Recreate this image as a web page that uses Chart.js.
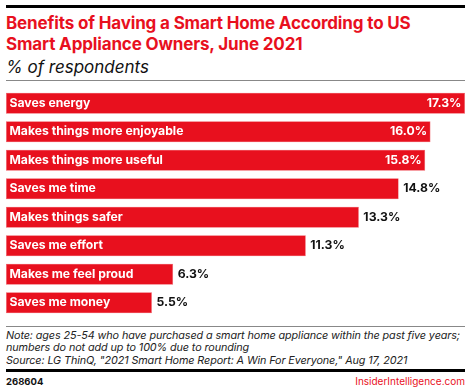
<!DOCTYPE html>
<html>
<head>
<meta charset="utf-8">
<script src="https://cdn.jsdelivr.net/npm/chart.js@4"></script>
<style>
  html, body { margin: 0; padding: 0; background: #fff; }
  body { width: 470px; height: 391px; position: relative; overflow: hidden; font-family: Inter, "Liberation Sans", sans-serif; }
  .rule { position: absolute; left: 6px; width: 459px; }
  #topRule { top: 5px; height: 3px; background: #000; }
  #headRule { top: 80px; height: 1px; background: #888; }
  #noteRule { top: 326px; height: 1px; background: #888; }
  #footRule { top: 369px; height: 3px; background: #000; }
  #title { position: absolute; left: 6px; top: 13px; color: #e8101e; font-weight: 700; font-size: 17px; line-height: 20.5px; letter-spacing: -0.15px; white-space: nowrap; }
  #subtitle { position: absolute; left: 6px; top: 57px; font-style: italic; font-size: 17px; color: #111; white-space: nowrap; }
  #chartBox { position: absolute; left: 0; top: 85px; }
  #note { position: absolute; left: 6px; top: 329.5px; font-style: italic; font-size: 10.8px; line-height: 12.5px; color: #222; white-space: nowrap; letter-spacing: -0.1px; }
  #code { position: absolute; left: 6px; top: 375.5px; font-weight: 700; font-size: 9.5px; color: #111; }
  #brand { position: absolute; right: 5px; top: 375px; font-size: 10px; color: #e8101e; }
</style>
</head>
<body>
<div class="rule" id="topRule"></div>
<div id="title">Benefits of Having a Smart Home According to US<br>Smart Appliance Owners, June 2021</div>
<div id="subtitle">% of respondents</div>
<div class="rule" id="headRule"></div>
<div id="chartBox"><canvas id="benefits_chart" width="470" height="238"></canvas></div>
<div class="rule" id="noteRule"></div>
<div id="note">Note: ages 25-54 who have purchased a smart home appliance within the past five years;<br>numbers do not add up to 100% due to rounding<br>Source: LG ThinQ, "2021 Smart Home Report: A Win For Everyone," Aug 17, 2021</div>
<div class="rule" id="footRule"></div>
<div id="code">268604</div>
<div id="brand">InsiderIntelligence.com</div>
<script>
'use strict';
const benefits = [
    'Saves energy',
    'Makes things more enjoyable',
    'Makes things more useful',
    'Saves me time',
    'Makes things safer',
    'Saves me effort',
    'Makes me feel proud',
    'Saves me money',
];
const shares = [17.3, 16.0, 15.8, 14.8, 13.3, 11.3, 6.3, 5.5];

const barRed = '#e8101e';
const labelFont = '700 12.2px Inter, "Liberation Sans", sans-serif';

// draws the category name inside each bar and the value inside or after it
const barLabels = {
    id: 'barLabels',
    afterDatasetsDraw(chart) {
        const ctx = chart.ctx;
        const area = chart.chartArea;
        const bars = chart.getDatasetMeta(0).data;
        ctx.save();
        ctx.font = labelFont;
        ctx.textBaseline = 'middle';
        bars.forEach((bar, i) => {
            ctx.fillStyle = '#fff';
            ctx.textAlign = 'left';
            ctx.fillText(chart.data.labels[i], bar.base + 3.5, bar.y);
            let txt = shares[i].toFixed(1) + '%';
            let w = ctx.measureText(txt).width;
            if (bar.x + 5 + w + 8 > area.right) {
                ctx.textAlign = 'right';
                ctx.fillText(txt, bar.x - 3.5, bar.y);
            } else {
                ctx.fillStyle = '#111';
                ctx.textAlign = 'left';
                ctx.fillText(txt, bar.x + 4.5, bar.y);
            }
        });
        ctx.restore();
    },
};

let ctx = document.getElementById('benefits_chart').getContext('2d');
let myChart = new Chart(ctx, {
    type: 'bar',
    data: {
        labels: benefits,
        datasets: [
            {
                data: shares,
                backgroundColor: barRed,
                borderColor: '#ee5a63',
                borderWidth: 0.6,
                borderSkipped: false,
                barPercentage: 0.74,
                categoryPercentage: 1,
            }],
    },
    options: {
        indexAxis: 'y',
        responsive: false,
        animation: false,
        devicePixelRatio: 1,
        layout: {
            padding: { left: 6, right: 5, top: 4, bottom: 6 },
        },
        plugins: {
            legend: { display: false },
            tooltip: { enabled: false },
        },
        scales: {
            x: {
                display: false,
                min: 0,
                max: 17.3,
            },
            y: {
                display: false,
            },
        },
    },
    plugins: [barLabels],
});
</script>
</body>
</html>
